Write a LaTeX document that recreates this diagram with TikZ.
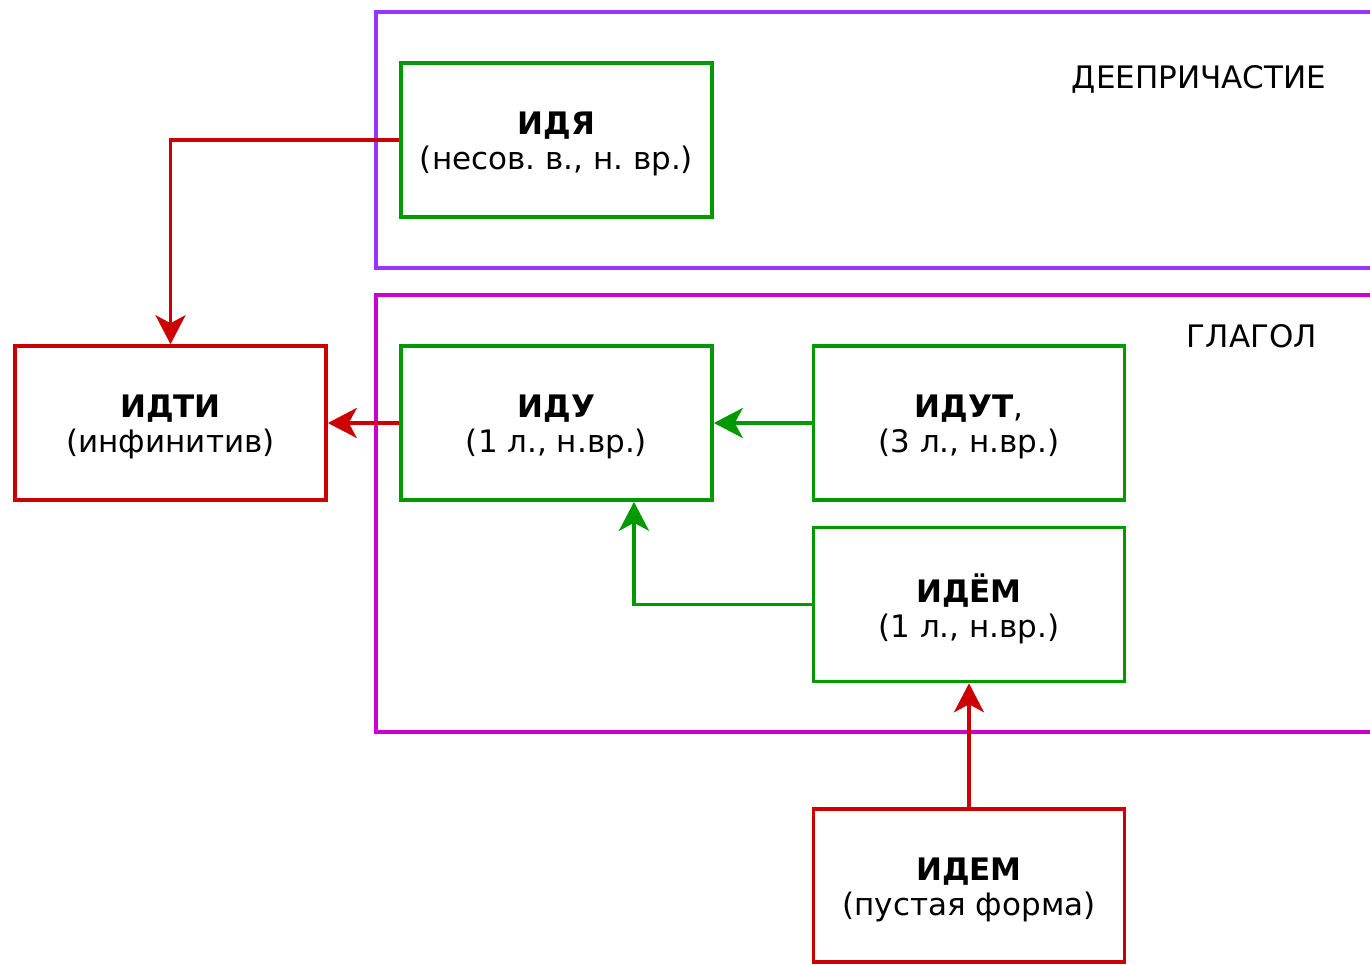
\documentclass[tikz,border=0pt]{standalone}
\usepackage{fontspec}
\setmainfont{DejaVu Sans}
\usetikzlibrary{arrows.meta}
\definecolor{grn}{HTML}{009900}
\definecolor{rd}{HTML}{CC0000}
\definecolor{prp}{HTML}{9933FF}
\definecolor{mgn}{HTML}{CC00CC}
\frenchspacing
\tikzset{
  formbox/.style={draw, line width=3.6pt, minimum width=311pt, minimum height=154pt,
    inner sep=0pt},
  greenbox/.style={formbox, draw=grn},
  redbox/.style={formbox, draw=rd},
  boxtext/.style={align=center, inner sep=0pt, yshift=-4pt,
    font=\fontsize{31}{35}\selectfont},
  group/.style={line width=3.6pt},
  grouplabel/.style={inner sep=0pt, font=\fontsize{31}{35}\selectfont},
  link/.style={line width=3.6pt, -{Stealth[length=29pt, width=30pt, inset=8pt]}},
}
\begin{document}
\begin{tikzpicture}[x=1pt, y=-1pt]
  \useasboundingbox (0,0) rectangle (1370,964);

  % containers for the two parts of speech
  \draw[group, draw=prp] (1400,12) -- (376,12) -- (376,268) -- (1400,268);
  \draw[group, draw=mgn] (1400,295) -- (376,295) -- (376,732) -- (1400,732);
  \node[grouplabel] (lblger) at (1199,79) {ДЕЕПРИЧАСТИЕ};
  \node[grouplabel] (lblverb) at (1252,336) {ГЛАГОЛ};

  % word forms
  \node[greenbox, label={[boxtext]center:\textbf{ИДЯ}\\(несов. в., н. вр.)}] (idya) at (556.5,140) {};
  \node[redbox, label={[boxtext]center:\textbf{ИДТИ}\\(инфинитив)}] (idti) at (170.5,423) {};
  \node[greenbox, label={[boxtext]center:\textbf{ИДУ}\\(1 л., н.вр.)}] (idu) at (556.5,423) {};
  \node[greenbox, label={[boxtext]center:\textbf{ИДУТ},\\(3 л., н.вр.)}] (idut) at (969,423) {};
  \node[greenbox, label={[boxtext]center:\textbf{ИДЁМ}\\(1 л., н.вр.)}] (idyom) at (969,604.5) {};
  \node[redbox, minimum height=153pt, label={[boxtext]center:\textbf{ИДЕМ}\\(пустая форма)}] (idem) at (969,885.5) {};

  % derivation links
  \draw[link, draw=rd] (idya.west) -| (idti.north);
  \draw[link, draw=rd] (idu.west) -- (idti.east);
  \draw[link, draw=grn] (idut.west) -- (idu.east);
  \draw[link, draw=grn] (idyom.west) -| ([xshift=77.5pt]idu.south);
  \draw[link, draw=rd] (idem.north) -- (idyom.south);
\end{tikzpicture}
\end{document}
